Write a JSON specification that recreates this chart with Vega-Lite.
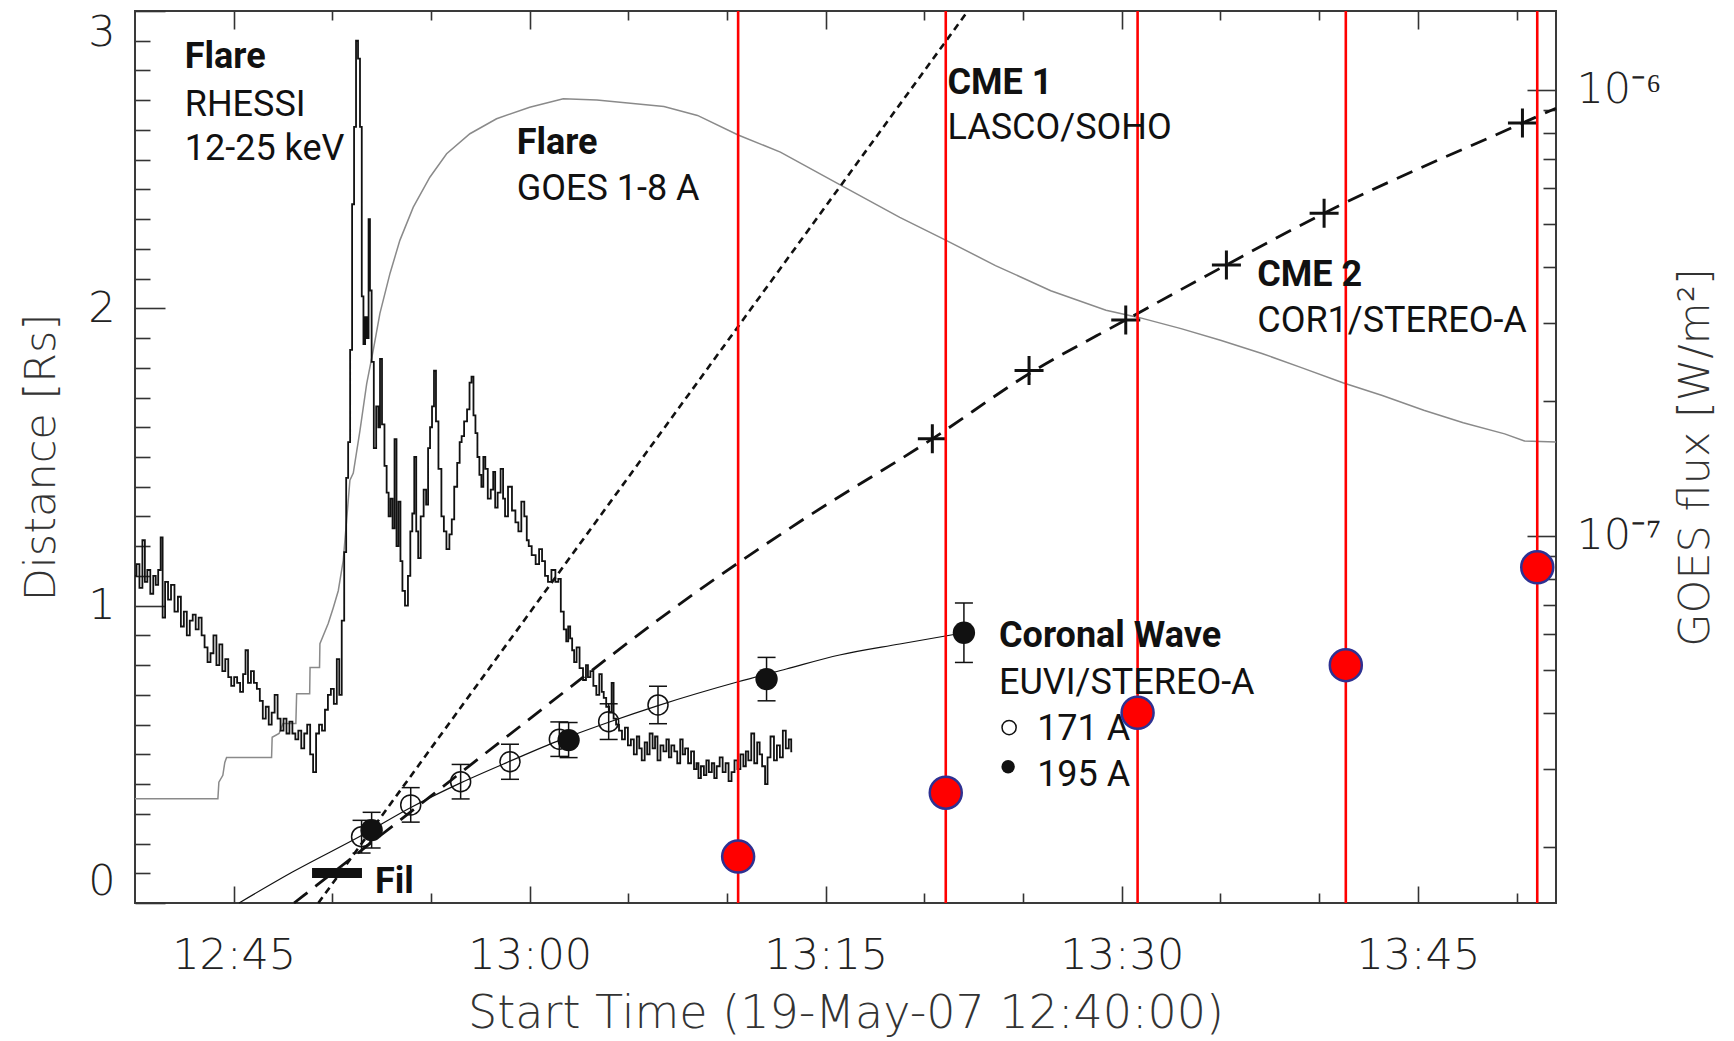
{
  "$schema": "https://vega.github.io/schema/vega-lite/v6.json",
  "width": 1421,
  "height": 892,
  "autosize": {"type": "none"},
  "padding": {"left": 135, "top": 11, "right": 178, "bottom": 138},
  "background": "white",
  "config": {
    "view": {"stroke": "#3a3a3a", "strokeWidth": 2},
    "axis": {
      "domain": false, "grid": false,
      "labelFont": "DejaVu Sans", "labelFontWeight": 200, "labelFontSize": 43, "labelColor": "#222",
      "titleFont": "DejaVu Sans", "titleFontWeight": 200, "titleFontSize": 43, "titleColor": "#333",
      "tickColor": "#333", "tickWidth": 1.6,
      "labelOverlap": false, "labelBound": false, "labelFlush": false
    }
  },
  "datasets": {
    "rhessi": [
      {"m":0.0,"d":1.10},{"m":0.15,"d":1.14},{"m":0.3,"d":1.06},{"m":0.45,"d":1.22},{"m":0.55,"d":1.08},{"m":0.7,"d":1.12},{"m":0.85,"d":1.04},{"m":1.0,"d":1.10},{"m":1.1,"d":1.07},{"m":1.25,"d":1.12},{"m":1.35,"d":1.23},{"m":1.45,"d":0.96},{"m":1.6,"d":1.08},{"m":1.75,"d":1.02},{"m":1.9,"d":1.07},{"m":2.1,"d":0.98},{"m":2.25,"d":1.03},{"m":2.4,"d":0.93},{"m":2.55,"d":0.98},{"m":2.7,"d":0.90},{"m":2.85,"d":0.95},{"m":3.0,"d":0.97},{"m":3.15,"d":0.92},{"m":3.3,"d":0.96},{"m":3.45,"d":0.90},{"m":3.6,"d":0.86},{"m":3.75,"d":0.81},{"m":3.9,"d":0.84},{"m":4.05,"d":0.90},{"m":4.2,"d":0.80},{"m":4.35,"d":0.87},{"m":4.5,"d":0.78},{"m":4.65,"d":0.82},{"m":4.8,"d":0.76},{"m":4.95,"d":0.73},{"m":5.1,"d":0.76},{"m":5.25,"d":0.74},{"m":5.4,"d":0.71},{"m":5.55,"d":0.77},{"m":5.65,"d":0.85},{"m":5.8,"d":0.74},{"m":5.95,"d":0.78},{"m":6.1,"d":0.74},{"m":6.25,"d":0.72},{"m":6.4,"d":0.68},{"m":6.55,"d":0.62},{"m":6.7,"d":0.66},{"m":6.85,"d":0.60},{"m":7.0,"d":0.64},{"m":7.15,"d":0.70},{"m":7.3,"d":0.62},{"m":7.45,"d":0.58},{"m":7.6,"d":0.62},{"m":7.75,"d":0.57},{"m":7.9,"d":0.61},{"m":8.05,"d":0.57},{"m":8.2,"d":0.55},{"m":8.35,"d":0.58},{"m":8.5,"d":0.52},{"m":8.65,"d":0.57},{"m":8.8,"d":0.60},{"m":8.95,"d":0.50},{"m":9.1,"d":0.44},{"m":9.25,"d":0.57},{"m":9.4,"d":0.60},{"m":9.55,"d":0.58},{"m":9.7,"d":0.65},{"m":9.85,"d":0.70},{"m":10.0,"d":0.72},{"m":10.15,"d":0.67},{"m":10.3,"d":0.82},{"m":10.4,"d":0.70},{"m":10.55,"d":0.95},{"m":10.65,"d":1.18},{"m":10.75,"d":1.43},{"m":10.85,"d":1.55},{"m":10.95,"d":1.86},{"m":11.05,"d":2.35},{"m":11.15,"d":2.61},{"m":11.25,"d":2.90},{"m":11.35,"d":2.84},{"m":11.45,"d":2.61},{"m":11.53,"d":2.04},{"m":11.62,"d":1.88},{"m":11.7,"d":1.97},{"m":11.8,"d":1.90},{"m":11.87,"d":2.30},{"m":11.94,"d":2.06},{"m":12.04,"d":1.82},{"m":12.16,"d":1.53},{"m":12.28,"d":1.67},{"m":12.38,"d":1.60},{"m":12.45,"d":1.83},{"m":12.58,"d":1.61},{"m":12.7,"d":1.47},{"m":12.8,"d":1.38},{"m":12.9,"d":1.30},{"m":13.0,"d":1.36},{"m":13.1,"d":1.26},{"m":13.2,"d":1.56},{"m":13.3,"d":1.20},{"m":13.4,"d":1.35},{"m":13.5,"d":1.15},{"m":13.6,"d":1.05},{"m":13.76,"d":1.00},{"m":13.9,"d":1.10},{"m":14.0,"d":1.25},{"m":14.1,"d":1.31},{"m":14.2,"d":1.50},{"m":14.3,"d":1.25},{"m":14.4,"d":1.16},{"m":14.55,"d":1.30},{"m":14.7,"d":1.39},{"m":14.8,"d":1.34},{"m":14.9,"d":1.53},{"m":15.0,"d":1.60},{"m":15.1,"d":1.67},{"m":15.2,"d":1.79},{"m":15.3,"d":1.62},{"m":15.45,"d":1.46},{"m":15.6,"d":1.30},{"m":15.7,"d":1.25},{"m":15.86,"d":1.19},{"m":16.0,"d":1.24},{"m":16.1,"d":1.29},{"m":16.25,"d":1.40},{"m":16.4,"d":1.48},{"m":16.5,"d":1.55},{"m":16.6,"d":1.57},{"m":16.75,"d":1.62},{"m":16.9,"d":1.66},{"m":17.0,"d":1.75},{"m":17.1,"d":1.77},{"m":17.2,"d":1.64},{"m":17.3,"d":1.58},{"m":17.4,"d":1.50},{"m":17.5,"d":1.44},{"m":17.6,"d":1.40},{"m":17.7,"d":1.50},{"m":17.8,"d":1.46},{"m":17.95,"d":1.36},{"m":18.1,"d":1.39},{"m":18.2,"d":1.45},{"m":18.3,"d":1.33},{"m":18.45,"d":1.38},{"m":18.6,"d":1.46},{"m":18.7,"d":1.36},{"m":18.8,"d":1.30},{"m":19.0,"d":1.40},{"m":19.2,"d":1.32},{"m":19.35,"d":1.28},{"m":19.5,"d":1.25},{"m":19.65,"d":1.35},{"m":19.8,"d":1.30},{"m":19.9,"d":1.22},{"m":20.0,"d":1.20},{"m":20.2,"d":1.17},{"m":20.4,"d":1.14},{"m":20.55,"d":1.19},{"m":20.7,"d":1.15},{"m":20.85,"d":1.10},{"m":21.0,"d":1.08},{"m":21.2,"d":1.12},{"m":21.4,"d":1.08},{"m":21.5,"d":1.09},{"m":21.65,"d":0.98},{"m":21.8,"d":0.92},{"m":21.9,"d":0.88},{"m":22.0,"d":0.93},{"m":22.1,"d":0.89},{"m":22.2,"d":0.85},{"m":22.3,"d":0.81},{"m":22.45,"d":0.86},{"m":22.6,"d":0.79},{"m":22.8,"d":0.75},{"m":22.9,"d":0.80},{"m":23.0,"d":0.76},{"m":23.15,"d":0.78},{"m":23.3,"d":0.73},{"m":23.45,"d":0.70},{"m":23.6,"d":0.77},{"m":23.7,"d":0.71},{"m":23.8,"d":0.69},{"m":23.95,"d":0.66},{"m":24.1,"d":0.64},{"m":24.2,"d":0.74},{"m":24.3,"d":0.62},{"m":24.45,"d":0.60},{"m":24.6,"d":0.58},{"m":24.75,"d":0.55},{"m":24.9,"d":0.59},{"m":25.05,"d":0.53},{"m":25.2,"d":0.55},{"m":25.35,"d":0.50},{"m":25.5,"d":0.56},{"m":25.6,"d":0.52},{"m":25.75,"d":0.48},{"m":25.9,"d":0.54},{"m":26.0,"d":0.50},{"m":26.15,"d":0.57},{"m":26.3,"d":0.52},{"m":26.4,"d":0.56},{"m":26.55,"d":0.48},{"m":26.7,"d":0.53},{"m":26.85,"d":0.51},{"m":27.0,"d":0.55},{"m":27.1,"d":0.49},{"m":27.25,"d":0.53},{"m":27.4,"d":0.51},{"m":27.55,"d":0.47},{"m":27.7,"d":0.55},{"m":27.8,"d":0.50},{"m":27.95,"d":0.52},{"m":28.1,"d":0.47},{"m":28.25,"d":0.51},{"m":28.4,"d":0.45},{"m":28.5,"d":0.47},{"m":28.6,"d":0.42},{"m":28.75,"d":0.46},{"m":28.9,"d":0.43},{"m":29.0,"d":0.48},{"m":29.15,"d":0.44},{"m":29.3,"d":0.47},{"m":29.4,"d":0.42},{"m":29.55,"d":0.46},{"m":29.7,"d":0.49},{"m":29.85,"d":0.44},{"m":30.0,"d":0.47},{"m":30.15,"d":0.41},{"m":30.3,"d":0.44},{"m":30.45,"d":0.48},{"m":30.6,"d":0.45},{"m":30.75,"d":0.50},{"m":30.9,"d":0.46},{"m":31.0,"d":0.51},{"m":31.15,"d":0.48},{"m":31.3,"d":0.57},{"m":31.45,"d":0.47},{"m":31.6,"d":0.54},{"m":31.7,"d":0.50},{"m":31.85,"d":0.46},{"m":32.0,"d":0.40},{"m":32.1,"d":0.49},{"m":32.3,"d":0.56},{"m":32.45,"d":0.48},{"m":32.6,"d":0.53},{"m":32.75,"d":0.49},{"m":32.9,"d":0.58},{"m":33.05,"d":0.52},{"m":33.2,"d":0.55},{"m":33.3,"d":0.51}
    ],
    "goes": [
      {"m":0,"f":2.57e-8},{"m":4.2,"f":2.57e-8},{"m":4.25,"f":2.8e-8},{"m":4.45,"f":2.9e-8},{"m":4.55,"f":3.1e-8},{"m":4.64,"f":3.18e-8},{"m":6.92,"f":3.18e-8},{"m":6.95,"f":3.53e-8},{"m":7.3,"f":3.6e-8},{"m":7.5,"f":3.79e-8},{"m":8.15,"f":3.79e-8},{"m":8.19,"f":4.42e-8},{"m":8.85,"f":4.42e-8},{"m":8.87,"f":5.06e-8},{"m":9.35,"f":5.06e-8},{"m":9.37,"f":5.72e-8},{"m":9.79,"f":6.35e-8},{"m":10.05,"f":6.9e-8},{"m":10.3,"f":7.52e-8},{"m":10.55,"f":8.79e-8},{"m":10.72,"f":1.08e-7},{"m":10.89,"f":1.33e-7},{"m":11.06,"f":1.38e-7},{"m":11.4,"f":1.72e-7},{"m":11.74,"f":2.19e-7},{"m":12.07,"f":2.6e-7},{"m":12.41,"f":3.15e-7},{"m":12.92,"f":3.87e-7},{"m":13.42,"f":4.59e-7},{"m":14.1,"f":5.45e-7},{"m":14.94,"f":6.36e-7},{"m":15.79,"f":7.18e-7},{"m":16.97,"f":7.96e-7},{"m":18.32,"f":8.6e-7},{"m":20.0,"f":9.13e-7},{"m":21.7,"f":9.53e-7},{"m":23.4,"f":9.48e-7},{"m":25.1,"f":9.32e-7},{"m":26.8,"f":9.16e-7},{"m":28.5,"f":8.75e-7},{"m":30.56,"f":7.91e-7},{"m":32.7,"f":7.24e-7},{"m":35.8,"f":6.09e-7},{"m":38.75,"f":5.17e-7},{"m":41.1,"f":4.59e-7},{"m":43.6,"f":4.03e-7},{"m":46.4,"f":3.54e-7},{"m":49.2,"f":3.2e-7},{"m":50.9,"f":3.08e-7},{"m":53.0,"f":2.91e-7},{"m":55.0,"f":2.74e-7},{"m":57.1,"f":2.56e-7},{"m":59.1,"f":2.38e-7},{"m":61.2,"f":2.2e-7},{"m":63.2,"f":2.06e-7},{"m":65.3,"f":1.91e-7},{"m":67.3,"f":1.79e-7},{"m":69.4,"f":1.69e-7},{"m":70.4,"f":1.63e-7},{"m":72,"f":1.62e-7}
    ],
    "cme1": [{"m":9.29,"d":0},{"m":42.2,"d":3}],
    "cme2fit": [{"m":8.06,"d":0},{"m":14.94,"d":0.357},{"m":18.83,"d":0.559},{"m":28.96,"d":1.07},{"m":33.7,"d":1.283},{"m":40.4,"d":1.561},{"m":45.3,"d":1.78},{"m":50.2,"d":1.961},{"m":55.3,"d":2.146},{"m":60.25,"d":2.32},{"m":70.3,"d":2.623},{"m":72,"d":2.673}],
    "cme2pts": [{"m":40.4,"d":1.561},{"m":45.3,"d":1.791},{"m":50.2,"d":1.961},{"m":55.3,"d":2.146},{"m":60.25,"d":2.32},{"m":70.3,"d":2.623}],
    "wavefit": [{"m":5.27,"d":0},{"m":8,"d":0.105},{"m":11.5,"d":0.228},{"m":14,"d":0.322},{"m":16.5,"d":0.404},{"m":19,"d":0.477},{"m":21.5,"d":0.547},{"m":24,"d":0.608},{"m":26.5,"d":0.664},{"m":30.56,"d":0.744},{"m":33,"d":0.787},{"m":35.7,"d":0.834},{"m":38.75,"d":0.871},{"m":42,"d":0.909}],
    "wave": [
      {"band":"171 A","m":11.48,"d":0.223,"lo":0.168,"hi":0.278},
      {"band":"171 A","m":13.97,"d":0.330,"lo":0.272,"hi":0.388},
      {"band":"171 A","m":16.5,"d":0.408,"lo":0.350,"hi":0.466},
      {"band":"171 A","m":19.0,"d":0.475,"lo":0.416,"hi":0.534},
      {"band":"171 A","m":21.5,"d":0.551,"lo":0.493,"hi":0.609},
      {"band":"171 A","m":24.0,"d":0.610,"lo":0.550,"hi":0.670},
      {"band":"171 A","m":26.5,"d":0.666,"lo":0.603,"hi":0.729},
      {"band":"195 A","m":11.99,"d":0.245,"lo":0.185,"hi":0.305},
      {"band":"195 A","m":21.97,"d":0.548,"lo":0.489,"hi":0.607},
      {"band":"195 A","m":32.0,"d":0.753,"lo":0.680,"hi":0.826},
      {"band":"195 A","m":42.0,"d":0.909,"lo":0.809,"hi":1.009}
    ],
    "red": [{"m":30.56,"d":0.156},{"m":41.08,"d":0.371},{"m":50.8,"d":0.640},{"m":61.35,"d":0.80},{"m":71.05,"d":1.129}],
    "fil": [{"m":8.97,"m2":11.5,"d":0.101}],
    "leg171": [{"m":44.29,"d":0.590}],
    "leg195": [{"m":44.24,"d":0.458}],
    "textBold": [
      {"m":2.52,"d":2.807,"t":"Flare"},{"m":19.34,"d":2.519,"t":"Flare"},{"m":41.17,"d":2.721,"t":"CME 1"},{"m":56.86,"d":2.075,"t":"CME 2"},{"m":43.78,"d":0.862,"t":"Coronal Wave"},{"m":12.16,"d":0.033,"t":"Fil"}
    ],
    "textReg": [
      {"m":2.52,"d":2.647,"t":"RHESSI"},{"m":2.52,"d":2.499,"t":"12-25 keV"},{"m":19.34,"d":2.365,"t":"GOES 1-8 A"},{"m":41.17,"d":2.569,"t":"LASCO/SOHO"},{"m":56.86,"d":1.922,"t":"COR1/STEREO-A"},{"m":43.78,"d":0.703,"t":"EUVI/STEREO-A"},{"m":45.71,"d":0.548,"t":"171 A"},{"m":45.71,"d":0.394,"t":"195 A"}
    ]
  },
  "layer": [
    {
      "data": {"name": "goes"},
      "mark": {"type": "line", "color": "#8a8a8a", "strokeWidth": 1.5},
      "encoding": {
        "x": {"field": "m", "type": "quantitative", "scale": {"domain": [0, 72], "nice": false, "zero": false},
              "axis": {"orient": "top", "labels": false, "title": null, "tickSize": -18, "values": [5, 20, 35, 50, 65]}},
        "y": {"field": "f", "type": "quantitative", "scale": {"type": "log", "domain": [1.5e-8, 1.5e-6], "nice": false},
              "axis": {"orient": "right", "ticks": false, "tickSize": 0, "values": [1e-7, 1e-6],
                       "labelExpr": "datum.value > 5e-7 ? '10⁻⁶' : '10⁻⁷'", "labelAlign": "left", "labelBaseline": "middle", "labelPadding": 20,
                       "title": "GOES flux [W/m²]", "titleAngle": 270, "titleBaseline": "top", "titlePadding": 14}}
      }
    },
    {
      "data": {"name": "goes"},
      "mark": {"type": "point", "opacity": 0},
      "encoding": {
        "x": {"field": "m", "type": "quantitative", "scale": {"domain": [0, 72], "nice": false, "zero": false},
              "axis": {"orient": "top", "labels": false, "title": null, "tickSize": -9, "values": [10, 15, 25, 30, 40, 45, 55, 60, 70]}},
        "y": {"field": "f", "type": "quantitative", "scale": {"type": "log", "domain": [1.5e-8, 1.5e-6], "nice": false},
              "axis": {"orient": "right", "labels": false, "title": null, "tickSize": -29, "values": [1e-7, 1e-6]}}
      }
    },
    {
      "data": {"name": "goes"},
      "mark": {"type": "point", "opacity": 0},
      "encoding": {
        "x": {"field": "m", "type": "quantitative", "scale": {"domain": [0, 72], "nice": false, "zero": false}, "axis": null},
        "y": {"field": "f", "type": "quantitative", "scale": {"type": "log", "domain": [1.5e-8, 1.5e-6], "nice": false},
              "axis": {"orient": "right", "labels": false, "title": null, "tickSize": -13,
                       "values": [2e-8, 3e-8, 4e-8, 5e-8, 6e-8, 7e-8, 8e-8, 9e-8, 2e-7, 3e-7, 4e-7, 5e-7, 6e-7, 7e-7, 8e-7, 9e-7]}}
      }
    },
    {
      "data": {"name": "rhessi"},
      "mark": {"type": "line", "color": "#111", "strokeWidth": 1.8, "interpolate": "step"},
      "encoding": {
        "x": {"field": "m", "type": "quantitative", "scale": {"domain": [0, 72], "nice": false, "zero": false},
              "axis": {"orient": "bottom", "ticks": false, "tickSize": 0, "values": [5, 20, 35, 50, 65],
                       "labelExpr": "(floor((40 + datum.value) / 60) + 12) + ':' + ((40 + datum.value) % 60 < 10 ? '0' : '') + ((40 + datum.value) % 60)",
                       "labelBaseline": "middle", "labelPadding": 52,
                       "title": "Start Time (19-May-07 12:40:00)", "titleFontSize": 46, "titlePadding": 14}},
        "y": {"field": "d", "type": "quantitative", "scale": {"domain": [0, 3], "nice": false, "zero": false},
              "axis": {"orient": "left", "ticks": false, "tickSize": 0, "values": [0, 1, 2, 3], "format": "d", "labelFlush": true,
                       "labelPadding": 20, "title": "Distance [Rs]", "titlePadding": 24}}
      }
    },
    {
      "data": {"name": "cme1"},
      "mark": {"type": "line", "color": "#111", "strokeWidth": 2.6, "strokeDash": [7, 5]},
      "encoding": {
        "x": {"field": "m", "type": "quantitative", "scale": {"domain": [0, 72], "nice": false, "zero": false},
              "axis": {"orient": "bottom", "labels": false, "title": null, "tickSize": -17, "values": [5, 20, 35, 50, 65]}},
        "y": {"field": "d", "type": "quantitative", "scale": {"domain": [0, 3], "nice": false, "zero": false},
              "axis": {"orient": "left", "labels": false, "title": null, "tickSize": -30, "values": [0, 1, 2, 3]}}
      }
    },
    {
      "data": {"name": "cme2fit"},
      "mark": {"type": "line", "color": "#111", "strokeWidth": 2.8, "strokeDash": [17, 10], "interpolate": "monotone"},
      "encoding": {
        "x": {"field": "m", "type": "quantitative", "scale": {"domain": [0, 72], "nice": false, "zero": false},
              "axis": {"orient": "bottom", "labels": false, "title": null, "tickSize": -10, "values": [10, 15, 25, 30, 40, 45, 55, 60, 70]}},
        "y": {"field": "d", "type": "quantitative", "scale": {"domain": [0, 3], "nice": false, "zero": false},
              "axis": {"orient": "left", "labels": false, "title": null, "tickSize": -15,
                       "values": [0.1, 0.2, 0.3, 0.4, 0.5, 0.6, 0.7, 0.8, 0.9, 1.1, 1.2, 1.3, 1.4, 1.5, 1.6, 1.7, 1.8, 1.9, 2.1, 2.2, 2.3, 2.4, 2.5, 2.6, 2.7, 2.8, 2.9]}}
      }
    },
    {
      "data": {"name": "wavefit"},
      "mark": {"type": "line", "color": "#111", "strokeWidth": 1.2, "interpolate": "monotone"},
      "encoding": {
        "x": {"field": "m", "type": "quantitative", "scale": {"domain": [0, 72], "nice": false, "zero": false}, "axis": null},
        "y": {"field": "d", "type": "quantitative", "scale": {"domain": [0, 3], "nice": false, "zero": false}, "axis": null}
      }
    },
    {
      "data": {"name": "wave"},
      "mark": {"type": "rule", "color": "#111", "strokeWidth": 1.5},
      "encoding": {
        "x": {"field": "m", "type": "quantitative", "scale": {"domain": [0, 72], "nice": false, "zero": false}, "axis": null},
        "y": {"field": "lo", "type": "quantitative", "scale": {"domain": [0, 3], "nice": false, "zero": false}, "axis": null},
        "y2": {"field": "hi"}
      }
    },
    {
      "data": {"name": "wave"},
      "mark": {"type": "tick", "orient": "horizontal", "size": 18, "thickness": 1.5, "color": "#111", "opacity": 1},
      "encoding": {
        "x": {"field": "m", "type": "quantitative", "scale": {"domain": [0, 72], "nice": false, "zero": false}, "axis": null},
        "y": {"field": "lo", "type": "quantitative", "scale": {"domain": [0, 3], "nice": false, "zero": false}, "axis": null}
      }
    },
    {
      "data": {"name": "wave"},
      "mark": {"type": "tick", "orient": "horizontal", "size": 18, "thickness": 1.5, "color": "#111", "opacity": 1},
      "encoding": {
        "x": {"field": "m", "type": "quantitative", "scale": {"domain": [0, 72], "nice": false, "zero": false}, "axis": null},
        "y": {"field": "hi", "type": "quantitative", "scale": {"domain": [0, 3], "nice": false, "zero": false}, "axis": null}
      }
    },
    {
      "data": {"name": "wave"},
      "transform": [{"filter": "datum.band == '171 A'"}],
      "mark": {"type": "point", "shape": "circle", "filled": false, "color": "#111", "strokeWidth": 1.5, "size": 400, "opacity": 1},
      "encoding": {
        "x": {"field": "m", "type": "quantitative", "scale": {"domain": [0, 72], "nice": false, "zero": false}, "axis": null},
        "y": {"field": "d", "type": "quantitative", "scale": {"domain": [0, 3], "nice": false, "zero": false}, "axis": null}
      }
    },
    {
      "data": {"name": "wave"},
      "transform": [{"filter": "datum.band == '195 A'"}],
      "mark": {"type": "circle", "color": "#111", "size": 500, "opacity": 1},
      "encoding": {
        "x": {"field": "m", "type": "quantitative", "scale": {"domain": [0, 72], "nice": false, "zero": false}, "axis": null},
        "y": {"field": "d", "type": "quantitative", "scale": {"domain": [0, 3], "nice": false, "zero": false}, "axis": null}
      }
    },
    {
      "data": {"name": "cme2pts"},
      "mark": {"type": "point", "shape": "M-1,0L1,0M0,-1L0,1", "filled": false, "color": "#111", "strokeWidth": 3, "size": 841, "opacity": 1},
      "encoding": {
        "x": {"field": "m", "type": "quantitative", "scale": {"domain": [0, 72], "nice": false, "zero": false}, "axis": null},
        "y": {"field": "d", "type": "quantitative", "scale": {"domain": [0, 3], "nice": false, "zero": false}, "axis": null}
      }
    },
    {
      "data": {"name": "fil"},
      "mark": {"type": "rule", "color": "#111", "strokeWidth": 10, "strokeCap": "butt"},
      "encoding": {
        "x": {"field": "m", "type": "quantitative", "scale": {"domain": [0, 72], "nice": false, "zero": false}, "axis": null},
        "x2": {"field": "m2"},
        "y": {"field": "d", "type": "quantitative", "scale": {"domain": [0, 3], "nice": false, "zero": false}, "axis": null}
      }
    },
    {
      "data": {"name": "leg171"},
      "mark": {"type": "point", "shape": "circle", "filled": false, "color": "#111", "strokeWidth": 1.5, "size": 200, "opacity": 1},
      "encoding": {
        "x": {"field": "m", "type": "quantitative", "scale": {"domain": [0, 72], "nice": false, "zero": false}, "axis": null},
        "y": {"field": "d", "type": "quantitative", "scale": {"domain": [0, 3], "nice": false, "zero": false}, "axis": null}
      }
    },
    {
      "data": {"name": "leg195"},
      "mark": {"type": "circle", "color": "#111", "size": 180, "opacity": 1},
      "encoding": {
        "x": {"field": "m", "type": "quantitative", "scale": {"domain": [0, 72], "nice": false, "zero": false}, "axis": null},
        "y": {"field": "d", "type": "quantitative", "scale": {"domain": [0, 3], "nice": false, "zero": false}, "axis": null}
      }
    },
    {
      "data": {"name": "red"},
      "mark": {"type": "rule", "color": "#ff0000", "strokeWidth": 2.6},
      "encoding": {
        "x": {"field": "m", "type": "quantitative", "scale": {"domain": [0, 72], "nice": false, "zero": false}, "axis": null}
      }
    },
    {
      "data": {"name": "textBold"},
      "mark": {"type": "text", "font": "Roboto", "fontSize": 36, "fontWeight": "bold", "align": "left", "baseline": "alphabetic", "color": "#111"},
      "encoding": {
        "x": {"field": "m", "type": "quantitative", "scale": {"domain": [0, 72], "nice": false, "zero": false}, "axis": null},
        "y": {"field": "d", "type": "quantitative", "scale": {"domain": [0, 3], "nice": false, "zero": false}, "axis": null},
        "text": {"field": "t"}
      }
    },
    {
      "data": {"name": "textReg"},
      "mark": {"type": "text", "font": "Roboto", "fontSize": 36, "align": "left", "baseline": "alphabetic", "color": "#111"},
      "encoding": {
        "x": {"field": "m", "type": "quantitative", "scale": {"domain": [0, 72], "nice": false, "zero": false}, "axis": null},
        "y": {"field": "d", "type": "quantitative", "scale": {"domain": [0, 3], "nice": false, "zero": false}, "axis": null},
        "text": {"field": "t"}
      }
    },
    {
      "data": {"name": "red"},
      "mark": {"type": "circle", "color": "#ff0000", "stroke": "#2e3192", "strokeWidth": 2.5, "size": 1024, "opacity": 1},
      "encoding": {
        "x": {"field": "m", "type": "quantitative", "scale": {"domain": [0, 72], "nice": false, "zero": false}, "axis": null},
        "y": {"field": "d", "type": "quantitative", "scale": {"domain": [0, 3], "nice": false, "zero": false}, "axis": null}
      }
    }
  ],
  "resolve": {"scale": {"y": "independent"}, "axis": {"x": "independent", "y": "independent"}}
}
